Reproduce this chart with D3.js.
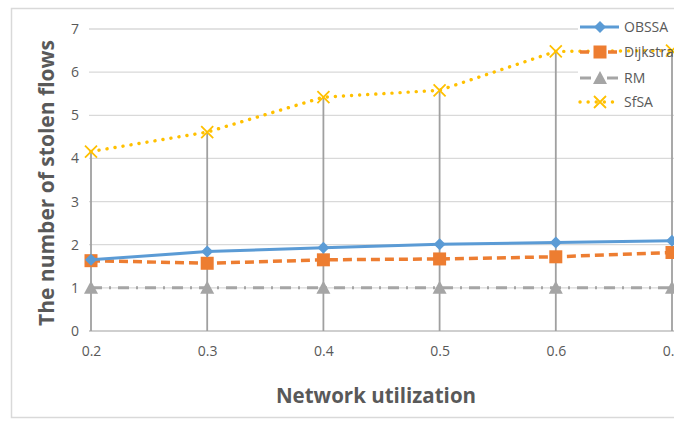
<!DOCTYPE html>
<html>
<head>
<meta charset="utf-8">
<script src="https://cdn.jsdelivr.net/npm/d3@7"></script>
<style>
  html, body { margin: 0; padding: 0; background: #fff; overflow: hidden; }
  svg { display: block; }
</style>
</head>
<body>
<svg id="chart" width="674" height="421"></svg>
<script>
// Network utilization levels (x categories)
const utilization = [0.2, 0.3, 0.4, 0.5, 0.6, 0.7];
const xTickLabels = ["0.2", "0.3", "0.4", "0.5", "0.6", "0.7"];
const yTicks = [0, 1, 2, 3, 4, 5, 6, 7];

// Number of stolen flows per algorithm
const obssa    = [1.65, 1.84, 1.93, 2.01, 2.05, 2.09];
const dijkstra = [1.63, 1.57, 1.65, 1.67, 1.72, 1.82];
const rm       = [1.00, 1.00, 1.00, 1.00, 1.00, 1.00];
const sfsa     = [4.16, 4.61, 5.42, 5.58, 6.48, 6.50];

const series = [
  { name: "OBSSA",    values: obssa,    color: "#5B9BD5", dash: null,        cap: "butt",  width: 3,   marker: "diamond" },
  { name: "Dijkstra", values: dijkstra, color: "#ED7D31", dash: "9,5",       cap: "butt",  width: 3.5, marker: "square" },
  { name: "RM",       values: rm,       color: "#A5A5A5", dash: "11,7,2,7",  cap: "butt",  width: 3,   marker: "triangle" },
  { name: "SfSA",     values: sfsa,     color: "#FFC000", dash: "0.1,8",     cap: "round", width: 3.4, marker: "cross" }
];

const svg = d3.select("#chart");
const font = "'Open Sans', 'Liberation Sans', sans-serif";

// Chart frame
svg.append("rect")
  .attr("x", 11.5).attr("y", 8.5)
  .attr("width", 700).attr("height", 409)
  .attr("fill", "#fff")
  .attr("stroke", "#d9d9d9").attr("stroke-width", 1.5);

const x = d3.scaleLinear().domain([0.2, 0.7]).range([91, 672]);
const y = d3.scaleLinear().domain([0, 7]).range([331, 29]);

// Horizontal gridlines
svg.append("g")
  .selectAll("line")
  .data(yTicks.filter(d => d > 0))
  .join("line")
  .attr("x1", 89).attr("x2", 674)
  .attr("y1", d => y(d)).attr("y2", d => y(d))
  .attr("stroke", "#d9d9d9").attr("stroke-width", 1.3);

// Y axis labels
const yAxis = d3.axisLeft(y).tickValues(yTicks).tickSize(0).tickPadding(0).tickFormat(d3.format("d"));
const gy = svg.append("g").attr("transform", "translate(79,0)").call(yAxis);
gy.select(".domain").remove();
gy.selectAll("text")
  .attr("font-family", font).attr("font-size", 14).attr("fill", "#595959");

// X axis line and labels
const xAxis = d3.axisBottom(x).tickValues(utilization).tickSize(0).tickPadding(15)
  .tickFormat((d, i) => xTickLabels[i]);
const gx = svg.append("g").attr("transform", "translate(0,331)").call(xAxis);
gx.select(".domain").attr("d", "M89,0H674").attr("stroke", "#bfbfbf").attr("stroke-width", 1.3);
gx.selectAll("text")
  .attr("font-family", font).attr("font-size", 14).attr("fill", "#595959");

// Legend background masks gridlines behind it
svg.append("rect")
  .attr("x", 578).attr("y", 14).attr("width", 96).attr("height", 100)
  .attr("fill", "#fff");

// Drop lines from the highest value at each category down to the axis
const maxAt = utilization.map((u, i) => d3.max(series, s => s.values[i]));
svg.append("g")
  .selectAll("line")
  .data(utilization)
  .join("line")
  .attr("x1", d => x(d)).attr("x2", d => x(d))
  .attr("y1", y(0)).attr("y2", (d, i) => y(maxAt[i]))
  .attr("stroke", "#a0a0a0").attr("stroke-width", 1.8);

// Marker shapes
function drawMarker(g, type, color, cx, cy) {
  if (type === "diamond") {
    g.append("path")
      .attr("d", `M${cx},${cy - 6}L${cx + 6},${cy}L${cx},${cy + 6}L${cx - 6},${cy}Z`)
      .attr("fill", color);
  } else if (type === "square") {
    g.append("rect")
      .attr("x", cx - 6.5).attr("y", cy - 6.5).attr("width", 13).attr("height", 13)
      .attr("fill", color);
  } else if (type === "triangle") {
    g.append("path")
      .attr("d", `M${cx},${cy - 7}L${cx + 7},${cy + 6}L${cx - 7},${cy + 6}Z`)
      .attr("fill", color);
  } else if (type === "cross") {
    g.append("path")
      .attr("d", `M${cx - 6},${cy - 6}L${cx + 6},${cy + 6}M${cx + 6},${cy - 6}L${cx - 6},${cy + 6}`)
      .attr("stroke", color).attr("stroke-width", 1.8).attr("fill", "none");
  }
}

// Series lines and markers
const line = d3.line().x((d, i) => x(utilization[i])).y(d => y(d));
series.slice().reverse().forEach(s => {
  const g = svg.append("g");
  g.append("path")
    .datum(s.values)
    .attr("d", line)
    .attr("fill", "none")
    .attr("stroke", s.color)
    .attr("stroke-width", s.width)
    .attr("stroke-linecap", s.cap)
    .attr("stroke-dasharray", s.dash);
  s.values.forEach((v, i) => drawMarker(g, s.marker, s.color, x(utilization[i]), y(v)));
});

// Legend
const legendY = [27, 52, 78, 102];
series.forEach((s, i) => {
  const g = svg.append("g");
  const ly = legendY[i];
  g.append("line")
    .attr("x1", 580).attr("x2", 619).attr("y1", ly).attr("y2", ly)
    .attr("stroke", s.color).attr("stroke-width", s.width)
    .attr("stroke-linecap", s.cap)
    .attr("stroke-dasharray", s.dash);
  drawMarker(g, s.marker, s.color, 600, ly);
  g.append("text")
    .attr("x", 624).attr("y", ly).attr("dy", "0.35em")
    .attr("font-family", font).attr("font-size", 14).attr("fill", "#595959")
    .text(s.name);
});

// Axis titles
svg.append("text")
  .attr("transform", "translate(47,183) rotate(-90)")
  .attr("text-anchor", "middle").attr("dy", "0.35em")
  .attr("font-family", font).attr("font-weight", "bold").attr("font-size", 21)
  .attr("fill", "#595959")
  .text("The number of stolen flows");

svg.append("text")
  .attr("x", 376).attr("y", 403)
  .attr("text-anchor", "middle")
  .attr("font-family", font).attr("font-weight", "bold").attr("font-size", 20.5)
  .attr("fill", "#595959")
  .text("Network utilization");
</script>
</body>
</html>
